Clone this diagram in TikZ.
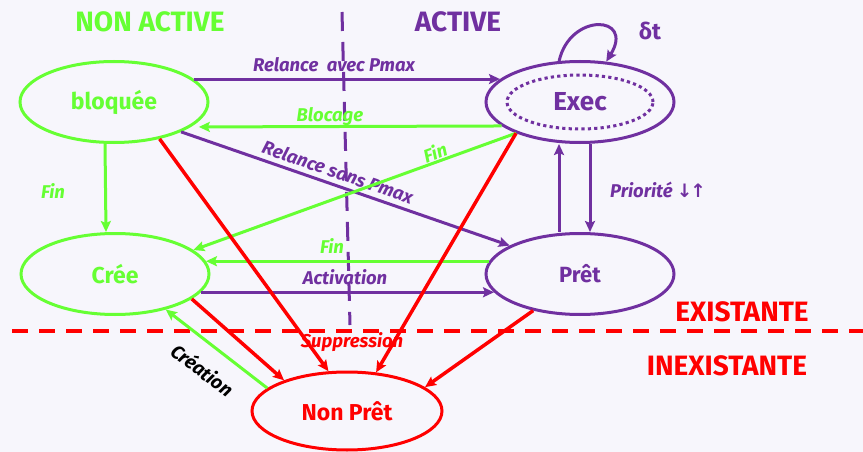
\documentclass[tikz,border=0pt]{standalone}
\usepackage{fontspec}
\setmainfont{Fira Sans}
\newfontfamily\symfont{DejaVu Sans}
\usetikzlibrary{shapes.geometric,arrows.meta}
\definecolor{vert}{HTML}{66FF33}
\definecolor{violet}{HTML}{7030A0}
\definecolor{rouge}{HTML}{FF0000}
\definecolor{fond}{HTML}{F7F6FC}
\begin{document}
\begin{tikzpicture}[x=1pt,y=-1pt,
  etat/.style={ellipse,draw,line width=3pt,inner sep=0pt,minimum width=188pt,minimum height=81pt,
     font=\fontsize{23}{25}\selectfont\bfseries},
  fl/.style={line width=3pt,-{Stealth[length=11pt,width=10pt,inset=2pt]}},
  lab/.style={font=\fontsize{18.5}{20}\selectfont\bfseries\itshape,inner sep=0pt},
  zone/.style={font=\fontsize{28}{30}\selectfont\bfseries,inner sep=0pt}]
% page
\fill[fond] (0,0) rectangle (863,452);
\useasboundingbox (0,0) rectangle (863,452);

% separators
\draw[violet,line width=3pt,dash pattern=on 19pt off 11pt] (342,12) -- (350,325);
\draw[rouge,line width=4pt,dash pattern=on 16pt off 11pt] (12,331) -- (863,331);

% region titles
\node[zone,text=vert] (tna) at (150,22) {NON ACTIVE};
\node[zone,text=violet] (ta) at (458,22) {ACTIVE};
\node[zone,text=rouge] (tex) at (742,312) {EXISTANTE};
\node[zone,text=rouge] (tin) at (727,366) {INEXISTANTE};

% states
\node[etat,draw=vert,text=vert] (bloq) at (114,102) {bloquée};
\node[etat,draw=violet,text=violet,font=\fontsize{26}{28}\selectfont\bfseries] (exec) at (580,102) {Exec};
\draw[violet,line width=3pt,dash pattern=on 3.2pt off 3.2pt] (exec.center) ellipse [x radius=73pt,y radius=27pt];
\node[etat,draw=vert,text=vert] (cree) at (115,274) {Crée};
\node[etat,draw=violet,text=violet,font=\fontsize{22}{24}\selectfont\bfseries] (pret) at (580,274) {Prêt};
\node[etat,draw=rouge,text=rouge,minimum width=190pt,minimum height=78pt] (np) at (347,411) {Non Prêt};

% time slice loop
\draw[fl,violet] (exec.117) .. controls (570,12) and (635,15) .. (exec.57);
\node[zone,text=violet,font=\fontsize{23}{25}\selectfont\bfseries] (dt) at (650,31) {δt};

% transitions among existing states
\draw[fl,violet] (bloq.16) -- (exec.164);
\node[lab,text=violet] (l1) at (334,65) {Relance\ \ avec Pmax};
\draw[fl,vert] (exec.197) -- ([xshift=8pt]bloq.-18);
\node[lab,text=vert] (l2) at (330,117) {Blocage};
\draw[fl,vert] ([xshift=-9pt]bloq.south) -- ([xshift=-9pt]cree.north);
\node[lab,text=vert] (l3) at (53,191) {Fin};
\draw[fl,violet] (bloq.-24) -- (pret.158);
\node[lab,text=violet,rotate=-19] (l4) at (338,172) {Relance sans Pmax};
\draw[fl,vert] (exec.206) -- (cree.17);
\node[lab,text=vert,rotate=20] (l5) at (435,152) {Fin};
\draw[fl,violet] ([xshift=-21pt]pret.north) -- ([xshift=-21pt]exec.south);
\draw[fl,violet] ([xshift=10pt]exec.south) -- ([xshift=10pt]pret.north);
\node[lab,text=violet] (l6) at (658,190) {Priorité {\symfont\bfseries\upshape ↓\kern-2pt↑}};
\draw[fl,vert] (pret.172) -- (cree.8);
\node[lab,text=vert] (l7) at (332,246) {Fin};
\draw[fl,violet] (cree.-12) -- (pret.192);
\node[lab,text=violet] (l8) at (345,277) {Activation};

% removal
\draw[fl,rouge,line width=3.5pt] (bloq.-39) -- (np.115);
\draw[fl,rouge,line width=3.5pt] (cree.-18) -- (np.154);
\draw[fl,rouge,line width=3.5pt] (exec.206) -- (np.53);
\draw[fl,rouge,line width=3.5pt] (pret.218) -- (np.17);
\node[lab,text=rouge] (l9) at (352,342) {Suppression};

% creation
\draw[fl,vert] (np.164) -- (cree.-35);
\node[lab,text=black,rotate=-37,font=\fontsize{19}{21}\selectfont\bfseries\itshape] (l10) at (203,370) {Création};
\end{tikzpicture}
\end{document}
